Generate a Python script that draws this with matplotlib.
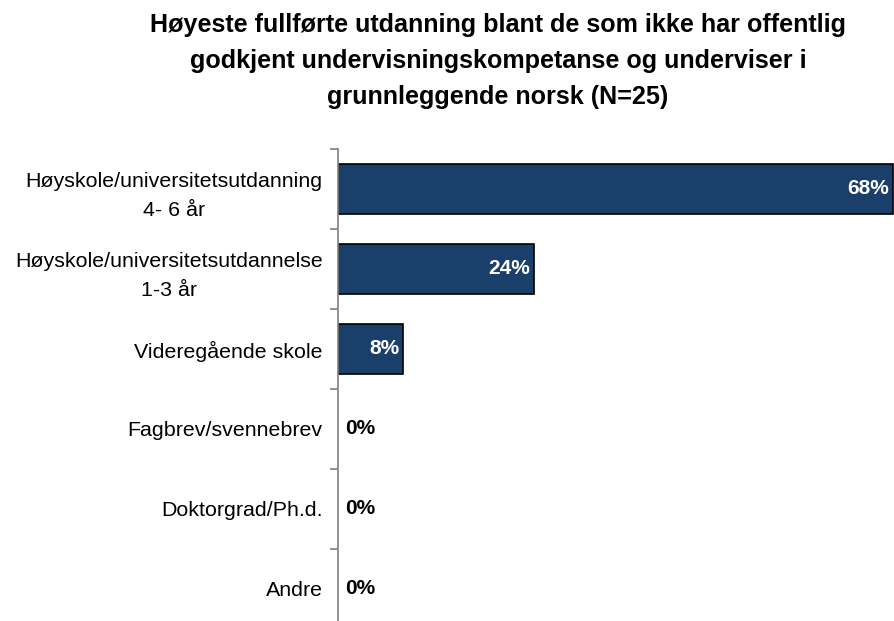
import matplotlib.pyplot as plt
import numpy as np

plt.rcParams['font.family'] = ['Liberation Sans', 'DejaVu Sans']

categories = ['Høyskole/universitetsutdanning\n4- 6 år',
              'Høyskole/universitetsutdannelse\n1-3 år',
              'Videregående skole',
              'Fagbrev/svennebrev',
              'Doktorgrad/Ph.d.',
              'Andre']
values = [68, 24, 8, 0, 0, 0]
labels = ['68%', '24%', '8%', '0%', '0%', '0%']

title = ('Høyeste fullførte utdanning blant de som ikke har offentlig\n'
         'godkjent undervisningskompetanse og underviser i\n'
         'grunnleggende norsk (N=25)')

fig = plt.figure(figsize=(8.94, 6.21), dpi=100)
ax = fig.add_axes([338/894, -8/621, 556/894, 480/621])

y = np.arange(len(categories))
lw = [1.2 if v > 0 else 0 for v in values]
ax.barh(y, values, height=0.63, color='#1B3F6B', edgecolor='black', linewidth=lw)

ax.set_ylim(len(categories) - 0.5, -0.5)
ax.set_xlim(0, 68.1)

for yi, v, lab in zip(y, values, labels):
    if v > 0:
        ax.text(v - 0.5, yi, lab, ha='right', va='center', color='white',
                fontsize=15, fontweight='bold')
    else:
        ax.text(0.85, yi, lab, ha='left', va='center', color='black',
                fontsize=15, fontweight='bold')

ax.set_yticks(y)
ax.set_yticklabels(categories, fontsize=15.4, multialignment='center')
for t in ax.get_yticklabels():
    t.set_linespacing(1.65)
ax.set_yticks(np.arange(len(categories)) - 0.5, minor=True)
ax.tick_params(axis='y', which='major', length=0, pad=11)
ax.tick_params(axis='y', which='minor', length=6, color='#808080', width=1.2)
ax.set_xticks([])
for s in ['top', 'right', 'bottom']:
    ax.spines[s].set_visible(False)
ax.spines['left'].set_color('#808080')
ax.spines['left'].set_linewidth(1.2)

fig.text(0.557, 1 - 13/621, title, ha='center', va='top', fontsize=18.1,
         fontweight='bold', linespacing=1.62)

fig.savefig('out.png', dpi=100)
